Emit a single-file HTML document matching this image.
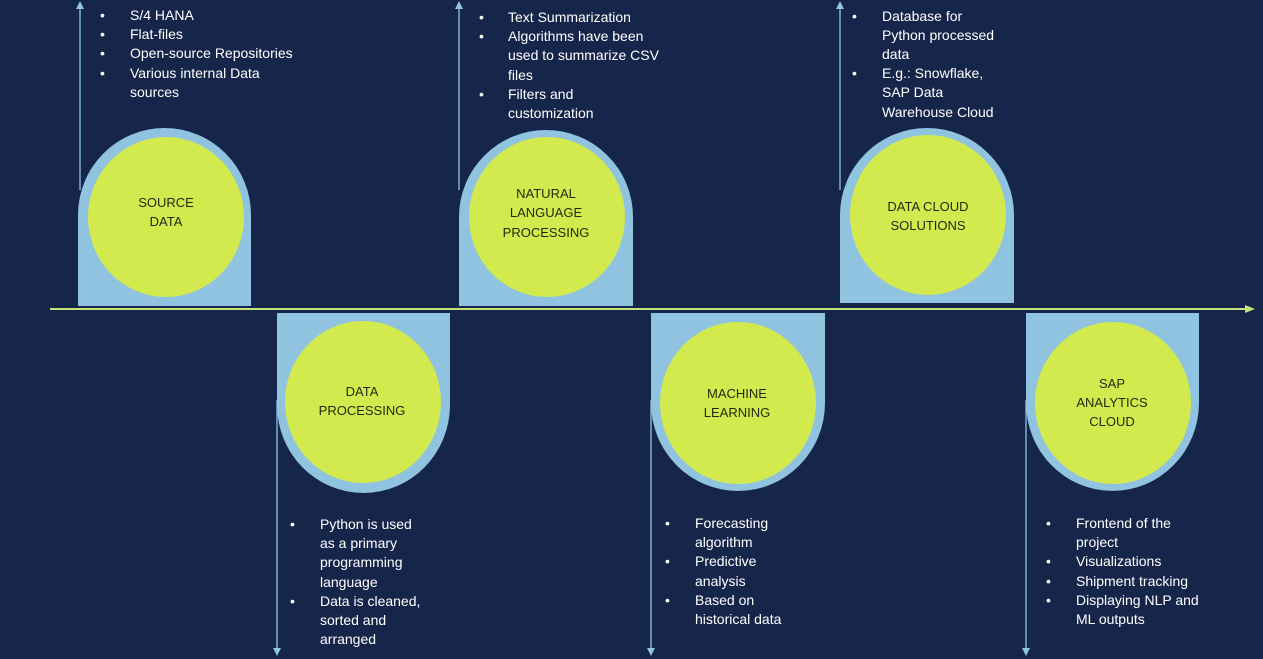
<!DOCTYPE html>
<html><head><style>
html,body{margin:0;padding:0;background:#16254a;}
svg{display:block;}
.t{font-family:"Liberation Sans",sans-serif;font-size:14px;fill:#fff;}
.c{font-family:"Liberation Sans",sans-serif;font-size:13px;fill:#1e2a10;text-anchor:middle;}
</style></head><body>
<svg width="1263" height="659" viewBox="0 0 1263 659" xmlns="http://www.w3.org/2000/svg">
<rect width="1263" height="659" fill="#16254a"/>
<defs>
<marker id="a" markerWidth="8" markerHeight="8" refX="4" refY="4" orient="auto" markerUnits="userSpaceOnUse"><path d="M0,0 L8,4 L0,8 Z" fill="#8fc3df"/></marker>
<marker id="g" markerWidth="10" markerHeight="10" refX="8" refY="5" orient="auto" markerUnits="userSpaceOnUse"><path d="M0,1 L10,5 L0,9 Z" fill="#c8e27a"/></marker>
</defs>
<g stroke="#8fc3df" stroke-width="1.3">
<line x1="80" y1="190" x2="80" y2="5" marker-end="url(#a)"/>
<line x1="459" y1="190" x2="459" y2="5" marker-end="url(#a)"/>
<line x1="840" y1="190" x2="840" y2="5" marker-end="url(#a)"/>
<line x1="277" y1="400" x2="277" y2="652" marker-end="url(#a)"/>
<line x1="651" y1="400" x2="651" y2="652" marker-end="url(#a)"/>
<line x1="1026" y1="400" x2="1026" y2="652" marker-end="url(#a)"/>
</g>
<g fill="#8fc3df">
<path d="M78,306 L78,215 A86.5,87 0 0 1 251,215 L251,306 Z"/>
<path d="M459,306 L459,217 A87,87 0 0 1 633,217 L633,306 Z"/>
<path d="M840,303 L840,215 A87,87 0 0 1 1014,215 L1014,303 Z"/>
<path d="M277,313 L277,405 A86.5,88 0 0 0 450,405 L450,313 Z"/>
<path d="M651,313 L651,403 A87,88 0 0 0 825,403 L825,313 Z"/>
<path d="M1026,313 L1026,403 A86.5,88 0 0 0 1199,403 L1199,313 Z"/>
</g>
<g fill="#d3ea4f">
<ellipse cx="166" cy="217" rx="78" ry="80"/>
<ellipse cx="547" cy="217" rx="78" ry="80"/>
<ellipse cx="928" cy="215" rx="78" ry="80"/>
<ellipse cx="363" cy="402" rx="78" ry="81"/>
<ellipse cx="738" cy="403" rx="78" ry="81"/>
<ellipse cx="1113" cy="403" rx="78" ry="81"/>
</g>
<line x1="50" y1="309" x2="1253" y2="309" stroke="#c8e27a" stroke-width="2" marker-end="url(#g)"/>
<text class="c" x="166" y="207">SOURCE</text><text class="c" x="166" y="226">DATA</text>
<text class="c" x="546" y="198">NATURAL</text><text class="c" x="546" y="217">LANGUAGE</text><text class="c" x="546" y="237">PROCESSING</text>
<text class="c" x="928" y="211">DATA CLOUD</text><text class="c" x="928" y="230">SOLUTIONS</text>
<text class="c" x="362" y="396">DATA</text><text class="c" x="362" y="415">PROCESSING</text>
<text class="c" x="737" y="398">MACHINE</text><text class="c" x="737" y="417">LEARNING</text>
<text class="c" x="1112" y="388">SAP</text><text class="c" x="1112" y="407">ANALYTICS</text><text class="c" x="1112" y="426">CLOUD</text>
<g class="t">
<text x="100" y="20">•</text><text x="130" y="20">S/4 HANA</text>
<text x="100" y="39">•</text><text x="130" y="39">Flat-files</text>
<text x="100" y="58">•</text><text x="130" y="58">Open-source Repositories</text>
<text x="100" y="78">•</text><text x="130" y="78">Various internal Data</text>
<text x="130" y="97">sources</text>

<text x="479" y="22">•</text><text x="508" y="22">Text Summarization</text>
<text x="479" y="41">•</text><text x="508" y="41">Algorithms have been</text>
<text x="508" y="60">used to summarize CSV</text>
<text x="508" y="80">files</text>
<text x="479" y="99">•</text><text x="508" y="99">Filters and</text>
<text x="508" y="118">customization</text>

<text x="852" y="21">•</text><text x="882" y="21">Database for</text>
<text x="882" y="40">Python processed</text>
<text x="882" y="59">data</text>
<text x="852" y="78">•</text><text x="882" y="78">E.g.: Snowflake,</text>
<text x="882" y="97">SAP Data</text>
<text x="882" y="117">Warehouse Cloud</text>

<text x="290" y="529">•</text><text x="320" y="529">Python  is used</text>
<text x="320" y="548">as a primary</text>
<text x="320" y="567">programming</text>
<text x="320" y="587">language</text>
<text x="290" y="606">•</text><text x="320" y="606">Data is cleaned,</text>
<text x="320" y="625">sorted and</text>
<text x="320" y="644">arranged</text>

<text x="665" y="528">•</text><text x="695" y="528">Forecasting</text>
<text x="695" y="547">algorithm</text>
<text x="665" y="566">•</text><text x="695" y="566">Predictive</text>
<text x="695" y="586">analysis</text>
<text x="665" y="605">•</text><text x="695" y="605">Based on</text>
<text x="695" y="624">historical data</text>

<text x="1046" y="528">•</text><text x="1076" y="528">Frontend  of the</text>
<text x="1076" y="547">project</text>
<text x="1046" y="566">•</text><text x="1076" y="566">Visualizations</text>
<text x="1046" y="586">•</text><text x="1076" y="586">Shipment  tracking</text>
<text x="1046" y="605">•</text><text x="1076" y="605">Displaying NLP and</text>
<text x="1076" y="624">ML outputs</text>
</g>
</svg>
</body></html>
